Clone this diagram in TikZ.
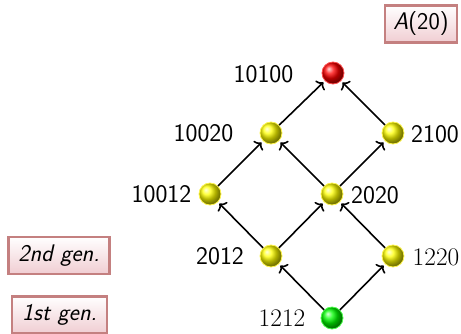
\documentclass[tikz,border=0pt]{standalone}
\usetikzlibrary{shadings,arrows.meta}
\definecolor{boxline}{RGB}{196,128,128}
\definecolor{boxbot}{RGB}{240,205,210}
\begin{document}
\begin{tikzpicture}[x=0.75pt,y=-0.75pt,
  ballnode/.style={circle,minimum size=16.5pt,inner sep=0pt,shading=ball,ball color=#1,draw=#1!70!white,line width=0.6pt},
  lab/.style={font=\fontsize{19}{22}\selectfont\sffamily,inner sep=0pt},
  labrm/.style={font=\fontsize{19}{22}\selectfont\rmfamily,inner sep=0pt},
  tagbox/.style={draw=boxline,line width=1.8pt,top color=white,bottom color=boxbot,inner sep=4pt,font=\fontsize{18}{21}\selectfont\sffamily\itshape},
  edge/.style={draw,line width=1.2pt,-{To[length=4pt,width=10pt]},shorten >=1.5pt}]
\useasboundingbox (0,0) rectangle (461,333);
\node[ballnode=red] (n10100) at (333,73) {};
\node[ballnode=yellow] (n10020) at (271,133) {};
\node[ballnode=yellow] (n2100) at (393,133) {};
\node[ballnode=yellow] (n10012) at (210,194) {};
\node[ballnode=yellow] (n2020) at (332,194) {};
\node[ballnode=yellow] (n2012) at (271,256) {};
\node[ballnode=yellow] (n1220) at (393,256) {};
\node[ballnode=green] (n1212) at (332,318) {};
\node[lab] (l10100) at (263.5,74) {10100};
\node[lab] (l10020) at (203.5,133) {10020};
\node[lab] (l2100) at (435,134) {2100};
\node[lab] (l10012) at (161.5,194) {10012};
\node[lab] (l2020) at (375,195) {2020};
\node[lab] (l2012) at (220,256) {2012};
\node[labrm] (l1220) at (436,257) {1220};
\node[labrm] (l1212) at (282,318) {1212};
\path[edge] (n1212) -- (n2012);
\path[edge] (n1212) -- (n1220);
\path[edge] (n2012) -- (n10012);
\path[edge] (n2012) -- (n2020);
\path[edge] (n1220) -- (n2020);
\path[edge] (n10012) -- (n10020);
\path[edge] (n2020) -- (n10020);
\path[edge] (n2020) -- (n2100);
\path[edge] (n10020) -- (n10100);
\path[edge] (n2100) -- (n10100);
\node[tagbox,minimum width=54pt,minimum height=28pt] (ta) at (421,24) {\textit{A}\textup{(20)}};
\node[tagbox,minimum width=76pt,minimum height=28pt] (t2) at (59,255.5) {2nd gen.};
\node[tagbox,minimum width=71pt,minimum height=28pt] (t1) at (59.5,315) {1st gen.};
\end{tikzpicture}
\end{document}
